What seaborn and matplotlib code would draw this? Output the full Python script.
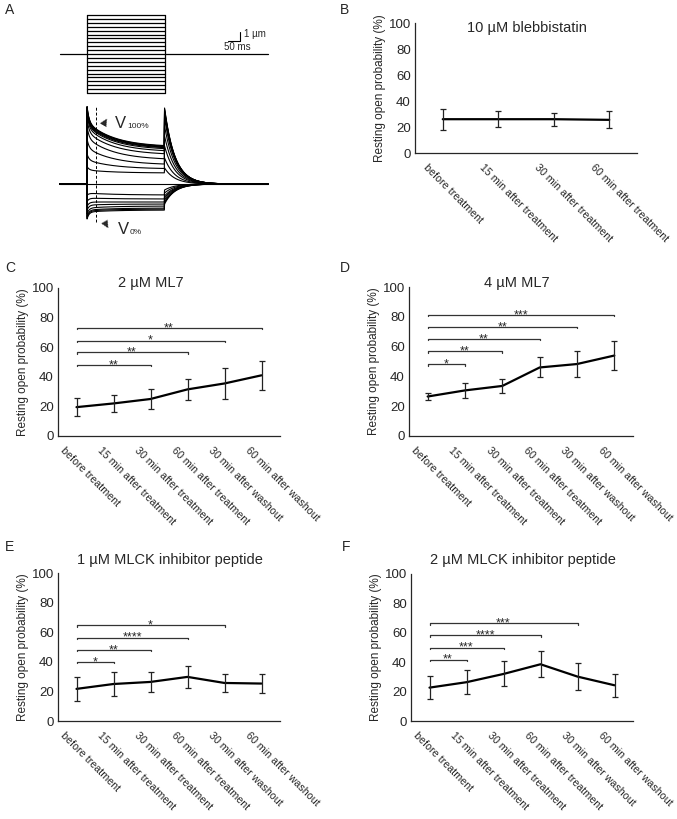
import numpy as np
import matplotlib
matplotlib.use('Agg')
import matplotlib.pyplot as plt
import seaborn as sns

sns.set_theme(style='ticks')
plt.rcParams['font.family'] = ['Liberation Sans', 'DejaVu Sans']

W, H = 677, 819

## data
labels4 = ['before treatment', '15 min after treatment', '30 min after treatment', '60 min after treatment']
labels6 = labels4 + ['30 min after washout', '60 min after washout']

blebb_mean = [26, 26, 26, 25.5]
blebb_err = [8, 6, 5, 6.5]

ml7_2_mean = [19.5, 22, 25, 31.5, 35.5, 41]
ml7_2_err = [6, 6, 6.5, 7, 10.5, 10]
ml7_2_sig_end = [2, 3, 4, 5]
ml7_2_sig_y = [48, 56.5, 64.5, 73]
ml7_2_sig_txt = ['**', '**', '*', '**']

ml7_4_mean = [26.5, 30.6, 33.6, 46, 48.3, 54]
ml7_4_err = [2.4, 5, 4.7, 6.7, 8.5, 10]
ml7_4_sig_end = [1, 2, 3, 4, 5]
ml7_4_sig_y = [48, 56.8, 65, 73.2, 81.4]
ml7_4_sig_txt = ['*', '**', '**', '**', '***']

pep1_mean = [21.7, 25, 26.4, 29.8, 25.7, 25.3]
pep1_err = [8, 8, 6.8, 7.7, 6, 6.7]
pep1_sig_end = [1, 2, 3, 4]
pep1_sig_y = [39.7, 48, 56.4, 64.6]
pep1_sig_txt = ['*', '**', '****', '*']

pep2_mean = [22.7, 26.4, 32, 38.6, 30.2, 24.3]
pep2_err = [7.7, 8, 8.5, 9, 9, 8]
pep2_sig_end = [1, 2, 3, 4]
pep2_sig_y = [41.8, 50, 58.2, 66.4]
pep2_sig_txt = ['**', '***', '****', '***']

# panel A: step protocol and displacement traces
step_on, step_off, t_end = 110, 425, 845
step_levels = list(range(-10, 11))
trace_early = [62, 61.5, 61, 60, 59, 58, 56, 52, 46, 36, 24, 14, 0, -9, -14, -18, -21, -24, -26, -27, -28]
trace_late = [37, 36.5, 36, 35.5, 35, 34, 32, 29, 24, 19, 15, 11, 0, -11, -15, -18, -20, -22, -24, -25, -26]
trace_tail = [76, 75, 74, 73, 72, 70, 66, 58, 48, 38, 26, 16, 0, -6, -9, -12, -14, -16, -18, -19, -20]


def px_rect(left, top, right, bottom):
    return [left / W, 1 - bottom / H, (right - left) / W, (bottom - top) / H]


def panel(rect, mean, err, labels, title, title_xy, sig=None, lab_shift=11):
    ax = fig.add_axes(px_rect(*rect))
    n = len(mean)
    x = np.arange(n)
    sns.lineplot(x=x, y=mean, ax=ax, color='black', lw=1.6)
    ax.errorbar(x, mean, yerr=err, fmt='none', ecolor='#222222', elinewidth=0.9,
                capsize=2.5, capthick=0.9)
    if sig is not None:
        ends, ys, txts = sig
        for e, y, t in zip(ends, ys, txts):
            ax.plot([0, 0, e, e], [y - 0.8, y, y, y - 0.8], color='#333333', lw=0.9)
            ax.text(e / 2, y - 2.2, t, ha='center', va='baseline', fontsize=9)
    ax.set_xlim(-0.5, n - 0.5)
    ax.set_ylim(0, 100)
    ax.set_yticks([0, 20, 40, 60, 80, 100])
    # labels start a little left of each point
    off = lab_shift * n / (rect[2] - rect[0])
    ax.set_xticks(x - off)
    ax.set_xticklabels(labels, rotation=-45, ha='left', rotation_mode='anchor', fontsize=7.7)
    ax.tick_params(axis='x', length=0, pad=7)
    ax.tick_params(axis='y', length=0, pad=3, labelsize=9.5)
    ax.set_ylabel('Resting open probability (%)', fontsize=8.5, labelpad=2)
    sns.despine(ax=ax)
    for s in ['left', 'bottom']:
        ax.spines[s].set_linewidth(0.9)
    fig.text(title_xy[0] / W, 1 - title_xy[1] / H, title, ha='center', va='center', fontsize=10.5)
    return ax


fig = plt.figure(figsize=(W / 100, H / 100), dpi=100)

## panel A
axA = fig.add_axes(px_rect(55, 5, 275, 235))
px_per_ms = 0.246
proto_base = 181
trace_base = 51
t = np.arange(0, t_end + 1, 1.0)
for s in step_levels:
    if s == 0:
        axA.plot([0, t_end], [proto_base, proto_base], color='black', lw=0.9)
    else:
        axA.plot([step_on, step_off], [proto_base + s * 3.9] * 2, color='black', lw=0.9)
for xx in [step_on, step_off]:
    axA.plot([xx, xx], [proto_base - 39, proto_base + 39], color='black', lw=0.9)

for e, l, tl in zip(trace_early, trace_late, trace_tail):
    y = np.zeros_like(t)
    on = (t >= step_on) & (t < step_off)
    dt = t[on] - step_on
    spike = 1.25 * e
    y[on] = l + (e - l) * np.exp(-dt / 110) + (spike - e) * np.exp(-dt / 8)
    off = t >= step_off
    dt2 = t[off] - step_off
    y[off] = tl * np.exp(-dt2 / 42)
    axA.plot(t, trace_base + y, color='black', lw=0.8)

axA.plot([146, 146], [trace_base - 38, trace_base + 78], color='black', lw=0.7, ls=(0, (3, 2)))
axA.text(177, trace_base + 61, '\u25B2', fontsize=9, ha='center', va='center', rotation=-30)
axA.text(222, trace_base + 61, 'V', fontsize=12, ha='left', va='center')
axA.text(273, trace_base + 57, '100%', fontsize=6, ha='left', va='center')
axA.text(187, trace_base - 40, '\u25BC', fontsize=9, ha='center', va='center', rotation=30)
axA.text(234, trace_base - 45, 'V', fontsize=12, ha='left', va='center')
axA.text(285, trace_base - 48, '0%', fontsize=6, ha='left', va='center')

# scale bar
sb_x = (240 - 60) / px_per_ms
axA.plot([sb_x - 50, sb_x, sb_x], [proto_base + 13, proto_base + 13, proto_base + 22], color='black', lw=0.8)
axA.text(sb_x + 18, proto_base + 20, '1 \u00b5m', fontsize=7, ha='left', va='center')
axA.text(sb_x - 65, proto_base + 7, '50 ms', fontsize=7, ha='left', va='center')
axA.set_xlim((55 - 60) / px_per_ms, (275 - 60) / px_per_ms)
axA.set_ylim(0, 230)
axA.axis('off')

## panels B-F
panel((415, 23, 637, 153), blebb_mean, blebb_err, labels4, '10 \u00b5M blebbistatin', (527, 28), lab_shift=14)
panel((58, 288, 280, 436), ml7_2_mean, ml7_2_err, labels6, '2 \u00b5M ML7', (151, 283),
      (ml7_2_sig_end, ml7_2_sig_y, ml7_2_sig_txt))
panel((409, 287, 633, 436), ml7_4_mean, ml7_4_err, labels6, '4 \u00b5M ML7', (517, 283),
      (ml7_4_sig_end, ml7_4_sig_y, ml7_4_sig_txt))
panel((58, 573, 280, 721), pep1_mean, pep1_err, labels6, '1 \u00b5M MLCK inhibitor peptide', (170, 560),
      (pep1_sig_end, pep1_sig_y, pep1_sig_txt))
panel((411, 574, 633, 721), pep2_mean, pep2_err, labels6, '2 \u00b5M MLCK inhibitor peptide', (523, 560),
      (pep2_sig_end, pep2_sig_y, pep2_sig_txt))

for letter, x, y in [('A', 5, 10), ('B', 340, 10), ('C', 5, 268), ('D', 340, 268), ('E', 5, 547), ('F', 342, 547)]:
    fig.text(x / W, 1 - y / H, letter, fontsize=10, ha='left', va='center')

fig.savefig('out.png', dpi=100)
